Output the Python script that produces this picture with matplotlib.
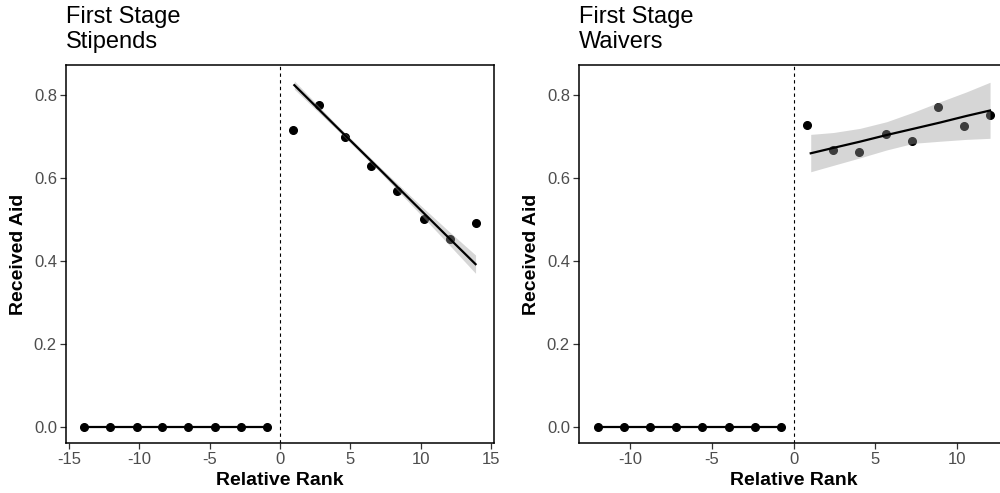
import numpy as np
import matplotlib
matplotlib.use("Agg")
import matplotlib.pyplot as plt

plt.rcParams['font.family'] = ['Liberation Sans', 'DejaVu Sans']
plt.rcParams['axes.unicode_minus'] = False

# Stipends panel
stip_left_x = [-13.9, -12.04, -10.19, -8.35, -6.5, -4.64, -2.79, -0.93]
stip_left_y = [0, 0, 0, 0, 0, 0, 0, 0]
stip_right_x = [0.93, 2.77, 4.64, 6.48, 8.33, 10.2, 12.04, 13.89]
stip_right_y = [0.716, 0.776, 0.698, 0.629, 0.569, 0.500, 0.452, 0.490]
stip_fit_x = [1.02, 4.0, 7.0, 10.0, 12.0, 13.89]
stip_fit_y = [0.823, 0.723, 0.623, 0.522, 0.455, 0.392]
stip_fit_lo = [0.813, 0.717, 0.617, 0.511, 0.439, 0.370]
stip_fit_hi = [0.833, 0.729, 0.629, 0.533, 0.471, 0.414]

# Waivers panel
waiv_left_x = [-12.0, -10.39, -8.8, -7.18, -5.59, -3.97, -2.38, -0.78]
waiv_left_y = [0, 0, 0, 0, 0, 0, 0, 0]
waiv_right_x = [0.81, 2.43, 4.02, 5.63, 7.22, 8.84, 10.43, 12.02]
waiv_right_y = [0.728, 0.666, 0.661, 0.705, 0.689, 0.770, 0.724, 0.751]
waiv_fit_x = [1.04, 2.43, 4.06, 5.69, 7.33, 8.96, 10.59, 12.02]
waiv_fit_y = [0.659, 0.672, 0.687, 0.703, 0.718, 0.733, 0.749, 0.762]
waiv_fit_lo = [0.6145, 0.630, 0.648, 0.667, 0.683, 0.688, 0.6925, 0.695]
waiv_fit_hi = [0.7045, 0.709, 0.719, 0.735, 0.758, 0.783, 0.807, 0.830]

fig = plt.figure(figsize=(10, 4.93), dpi=100)


def panel(rect, title, lx, ly, rx, ry, fx, fy, flo, fhi, xlim, xticks):
    ax = fig.add_axes(rect)
    ax.plot(lx, ly, color="black", lw=1.6, marker="o", ms=5.5, zorder=3)
    ax.plot(rx, ry, "o", color="black", ms=5.5, zorder=3)
    ax.fill_between(fx, flo, fhi, color="#999999", alpha=0.4, lw=0, zorder=4)
    ax.plot(fx, fy, color="black", lw=1.6, zorder=5)
    ax.axvline(0, color="black", lw=0.8, ls=(0, (3, 3)), zorder=2)
    ax.set_xlim(xlim)
    ax.set_ylim(-0.0386, 0.8716)
    ax.set_xticks(xticks)
    ax.set_yticks([0.0, 0.2, 0.4, 0.6, 0.8])
    ax.set_yticklabels(["0.0", "0.2", "0.4", "0.6", "0.8"])
    ax.tick_params(direction="out", length=4, width=0.9, color="#333333",
                   labelcolor="#4d4d4d", labelsize=12, pad=2.5)
    for s in ax.spines.values():
        s.set_linewidth(1.1)
        s.set_color("black")
    ax.set_xlabel("Relative Rank", fontsize=14, fontweight="bold")
    ax.set_ylabel("Received Aid", fontsize=14, fontweight="bold")
    ax.xaxis.set_label_coords(0.5, -0.078)
    ax.yaxis.set_label_coords(-0.09, 0.5)
    ax.set_title(title, loc="left", fontsize=17, pad=12, linespacing=1.2)
    return ax


panel([0.066, 0.1014, 0.428, 0.7668], "First Stage\nStipends",
      stip_left_x, stip_left_y, stip_right_x, stip_right_y,
      stip_fit_x, stip_fit_y, stip_fit_lo, stip_fit_hi,
      (-15.2, 15.2), [-15, -10, -5, 0, 5, 10, 15])

panel([0.579, 0.1014, 0.4295, 0.7668], "First Stage\nWaivers",
      waiv_left_x, waiv_left_y, waiv_right_x, waiv_right_y,
      waiv_fit_x, waiv_fit_y, waiv_fit_lo, waiv_fit_hi,
      (-13.15, 13.15), [-10, -5, 0, 5, 10])

fig.savefig("out.png", dpi=100)
